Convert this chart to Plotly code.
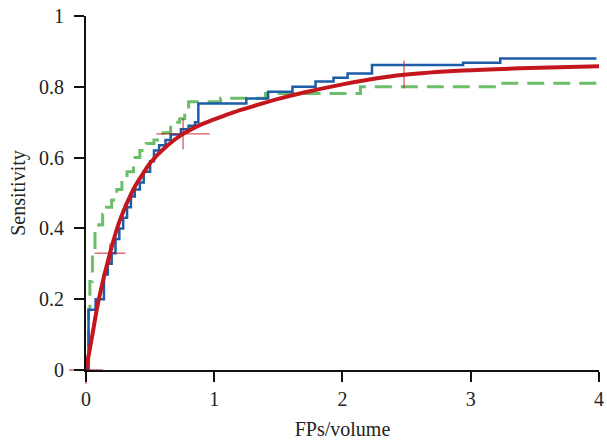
import plotly.graph_objects as go

# Blue step curve (solid)
blue_x = [0, 0.02, 0.075, 0.14, 0.17, 0.2, 0.23, 0.26, 0.29, 0.32, 0.35, 0.38, 0.42, 0.45, 0.5,
          0.53, 0.57, 0.62, 0.66, 0.74, 0.8, 0.85, 0.876, 1.25, 1.42, 1.61, 1.79, 1.93, 2.04,
          2.23, 2.94, 3.23, 3.98]
blue_y = [0, 0.17, 0.20, 0.27, 0.30, 0.33, 0.37, 0.40, 0.43, 0.46, 0.49, 0.51, 0.53, 0.56, 0.59,
          0.62, 0.635, 0.65, 0.665, 0.68, 0.69, 0.70, 0.753, 0.767, 0.786, 0.80, 0.815, 0.826, 0.838,
          0.862, 0.868, 0.88, 0.88]

# Green dashed step curve
green_x = [0, 0.02, 0.03, 0.05, 0.07, 0.1, 0.13, 0.16, 0.2, 0.24, 0.28, 0.32, 0.37, 0.42, 0.47,
           0.53, 0.6, 0.66, 0.73, 0.77, 0.8, 1.05, 1.4, 2.14, 3.23, 3.98]
green_y = [0, 0.17, 0.25, 0.34, 0.39, 0.41, 0.44, 0.46, 0.48, 0.51, 0.53, 0.56, 0.60, 0.62, 0.64,
           0.65, 0.67, 0.70, 0.71, 0.725, 0.758, 0.768, 0.781, 0.80, 0.81, 0.81]

# Red fitted curve
red_x = [0, 0.05, 0.1, 0.187, 0.265, 0.369, 0.447, 0.5, 0.63, 0.757, 0.9, 1.0, 1.15, 1.3,
         1.5, 1.7, 2.0, 2.2, 2.48, 2.94, 3.46, 4.0]
red_y = [0, 0.1, 0.2, 0.33, 0.424, 0.51, 0.556, 0.585, 0.633, 0.667, 0.694, 0.708, 0.728, 0.745,
         0.766, 0.784, 0.807, 0.82, 0.834, 0.846, 0.853, 0.858]

# Red cross markers (operating points on the fitted curve)
cross_x = [0, 0.187, 0.757, 2.48]
cross_y = [0, 0.33, 0.667, 0.835]

x_ticks = [0, 1, 2, 3, 4]
y_ticks = [0, 0.2, 0.4, 0.6, 0.8, 1]
y_tick_text = ["0", "0.2", "0.4", "0.6", "0.8", "1"]

BLUE = "#1d5ca6"
GREEN = "#6cbf6a"
RED = "#c3161d"
FONT = "Liberation Serif, DejaVu Serif, serif"

fig = go.Figure()
fig.add_trace(go.Scatter(x=green_x, y=green_y, mode="lines", line_shape="hv",
                         line=dict(color=GREEN, width=3, dash="17px,9px"), cliponaxis=False))
fig.add_trace(go.Scatter(x=blue_x, y=blue_y, mode="lines", line_shape="hv",
                         line=dict(color=BLUE, width=2.5), cliponaxis=False))
fig.add_trace(go.Scatter(x=red_x, y=red_y, mode="lines", line_shape="spline",
                         line=dict(color=RED, width=4, smoothing=1.0), cliponaxis=False))
# horizontal arms of the crosses
fig.add_trace(go.Scatter(x=cross_x, y=cross_y, mode="markers", cliponaxis=False,
                         marker=dict(symbol="line-ew", size=[24, 22, 38, 0], color=RED,
                                     line=dict(color=RED, width=1.3))))
# vertical arms of the crosses
fig.add_trace(go.Scatter(x=cross_x, y=cross_y, mode="markers", cliponaxis=False,
                         marker=dict(symbol="line-ns", size=[20, 14, 22, 20], color=RED,
                                     line=dict(color=RED, width=1.3))))

axis_common = dict(showgrid=False, zeroline=False, showline=True, linecolor="#111", linewidth=1.8,
                   ticks="outside", ticklen=10, tickwidth=2, tickcolor="#111", automargin=False,
                   ticklabeloverflow="allow",
                   tickfont=dict(family=FONT, size=20, color="#222"))

fig.update_xaxes(range=[0, 4.0001], tickvals=x_ticks, ticktext=[str(v) for v in x_ticks],
                 title=dict(text="FPs/volume", font=dict(family=FONT, size=20, color="#222"), standoff=14),
                 **axis_common)
fig.update_yaxes(range=[0, 1.0001], tickvals=y_ticks, ticktext=y_tick_text,
                 title=dict(text="Sensitivity", font=dict(family=FONT, size=20, color="#222"), standoff=8),
                 ticklabelstandoff=6,
                 **axis_common)

fig.update_layout(width=607, height=440, showlegend=False,
                  margin=dict(l=86, r=8, t=16, b=70),
                  plot_bgcolor="white", paper_bgcolor="white")

# remove the default page margin so the figure fills the 607x440 window exactly
fig.write_html("out.html", config={"displayModeBar": False},
               post_script="document.body.style.margin='0';document.body.style.overflow='hidden';")
